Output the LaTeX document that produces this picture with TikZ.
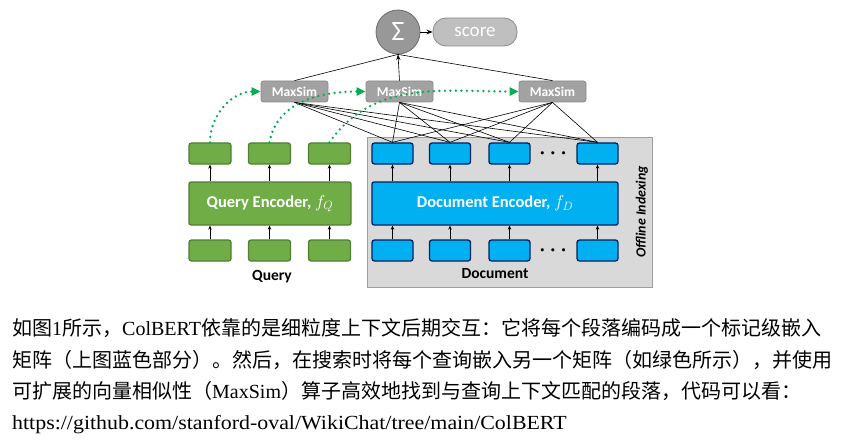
\documentclass[tikz,border=0pt]{standalone}
\usepackage{fontspec}
\setmainfont{Liberation Serif}
\newfontfamily\cjk{Noto Sans CJK SC}
\newfontfamily\calibri{Carlito}
\usetikzlibrary{arrows.meta}

\definecolor{qgreen}{HTML}{70AD47}
\definecolor{qgreenline}{HTML}{507E32}
\definecolor{dblue}{HTML}{00B0F0}
\definecolor{dblueline}{HTML}{002060}
\definecolor{dotgreen}{HTML}{00B050}
\definecolor{simgray}{HTML}{A2A2A2}
\definecolor{simline}{HTML}{8A8A8A}
\definecolor{sumgray}{HTML}{989898}
\definecolor{scoregray}{HTML}{BFBFBF}
\definecolor{boxgray}{HTML}{D9D9D9}
\definecolor{boxline}{HTML}{9E9E9E}

\begin{document}
\begin{tikzpicture}[x=1pt, y=-1pt, >=Stealth,
qtoken/.style={draw=qgreenline, fill=qgreen, line width=1.3pt, rounded corners=2.5pt, minimum width=42pt, minimum height=21pt, inner sep=0pt},
dtoken/.style={draw=dblueline, fill=dblue, line width=1.3pt, rounded corners=2.5pt, minimum width=41pt, minimum height=21pt, inner sep=0pt},
encoder/.style={line width=1.3pt, rounded corners=2pt, minimum height=43pt, inner sep=0pt, text=white, font=\calibri\bfseries\fontsize{16.5}{16.5}\selectfont},
maxsim/.style={draw=simline, fill=simgray, line width=.8pt, rounded corners=2.5pt, minimum width=67pt, minimum height=21pt, inner sep=0pt, text=white, font=\calibri\bfseries\fontsize{13.5}{13.5}\selectfont},
label/.style={font=\calibri\bfseries\fontsize{15.5}{15.5}\selectfont, inner sep=0pt},
simrel/.style={black, line width=.6pt},
encrel/.style={-{Stealth[length=4pt,width=3.5pt]}, line width=.7pt},
dotrel/.style={-{Triangle[length=9pt,width=8pt]}, dotgreen, line width=2.6pt, dash pattern=on 0pt off 5.5pt, line cap=round},
textline/.style={anchor=base west, inner sep=0pt, font=\fontsize{20}{24}\selectfont}]

\useasboundingbox (0,0) rectangle (851,441);

%%%%%%%% SETTINGS %%%%%%%%%%%%%
\pgfmathsetmacro{\Ytop}{153.5}
\pgfmathsetmacro{\Ybot}{250.5}
\pgfmathsetmacro{\Yenc}{203.5}
%%%%%%%%%%%%%%%%%%%%%%%%%%%

% offline indexing box
\node[draw=boxline, fill=boxgray, line width=.8pt, minimum width=285pt, minimum height=150pt, inner sep=0pt] (offline) at (509.5,212) {};
\node[label, rotate=90, font=\calibri\bfseries\itshape\fontsize{14}{14}\selectfont] (offlinelbl) at (642,212) {Offline Indexing};

% encoders
\node[encoder, draw=qgreenline, fill=qgreen, minimum width=162pt] (qenc) at (270,\Yenc) {Query Encoder, $f_Q$};
\node[encoder, draw=dblueline, fill=dblue, minimum width=246pt] (denc) at (495,\Yenc) {Document Encoder, $f_D$};

\foreach \x [count=\i] in {210,269.5,329.5}{
  \node[qtoken] (qtop\i) at (\x,\Ytop) {};
  \node[qtoken] (qbot\i) at (\x,\Ybot) {};
  \draw[encrel] (qbot\i.north) -- (qbot\i.north |- qenc.south);
  \draw[encrel] (qtop\i.south |- qenc.north) -- (qtop\i.south);
}
\foreach \x [count=\i] in {392.5,450,509.5,597.5}{
  \node[dtoken] (dtop\i) at (\x,\Ytop) {};
  \node[dtoken] (dbot\i) at (\x,\Ybot) {};
  \draw[encrel] (dbot\i.north) -- (dbot\i.north |- denc.south);
  \draw[encrel] (dtop\i.south |- denc.north) -- (dtop\i.south);
}
\node[font=\fontsize{21}{21}\selectfont\boldmath] (dotstop) at (553,\Ytop) {$\cdots$};
\node[font=\fontsize{21}{21}\selectfont\boldmath] (dotsbot) at (553,\Ybot) {$\cdots$};

\node[label] (querylbl) at (272,277) {Query};
\node[label] (doclbl) at (495,274) {Document};

% late interaction
\node[circle, draw=gray!85!black, fill=sumgray, line width=.8pt, minimum size=44pt, inner sep=0pt, text=white, font=\calibri\fontsize{28}{28}\selectfont] (sum) at (398,32) {Σ};
\node[draw=simline, fill=scoregray, line width=.8pt, rounded corners=13pt, minimum width=84pt, minimum height=28pt, inner sep=0pt, text=white, font=\calibri\fontsize{19}{19}\selectfont] (score) at (475,32) {score};
\draw[->, line width=.7pt] (sum) -- (score);

\foreach \x [count=\i] in {294.5,399.5,552.5}{
  \node[maxsim] (maxsim\i) at (\x,91.5) {MaxSim};
  \foreach \j in {1,...,4}{
    \draw[simrel] (maxsim\i.south) -- (dtop\j.north);
  }
}
\draw[simrel] (maxsim1.north) -- (sum.south);
\draw[simrel, ->] (maxsim2.north) -- (sum.south);
\draw[simrel] (maxsim3.north) -- (sum.south);

\draw[dotrel] (qtop1.north) to[out=90, in=180] (maxsim1.west);
\draw[dotrel] (qtop2.north) to[out=80, in=180] (maxsim2.west);
\draw[dotrel] (qtop3.north) to[out=55, in=180] (maxsim3.west);

% caption text
\node[textline] (line1) at (12,335) {{\cjk 如图}1{\cjk 所示，}ColBERT{\cjk 依靠的是细粒度上下文后期交互：它将每个段落编码成一个标记级嵌入}};
\node[textline] (line2) at (12,367) {\cjk 矩阵（上图蓝色部分）。然后，在搜索时将每个查询嵌入另一个矩阵（如绿色所示），并使用};
\node[textline] (line3) at (12,398) {{\cjk 可扩展的向量相似性（}MaxSim{\cjk ）算子高效地找到与查询上下文匹配的段落，代码可以看：}};
\node[textline] (line4) at (12,429) {\scalebox{1.095}[1]{https://github.com/stanford-oval/WikiChat/tree/main/ColBERT}};
\end{tikzpicture}
\end{document}
